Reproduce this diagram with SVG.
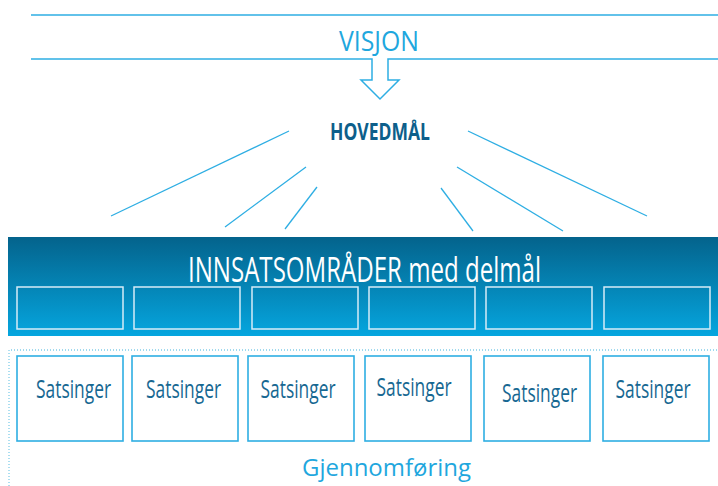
<svg xmlns="http://www.w3.org/2000/svg" width="718" height="486" viewBox="0 0 718 486">
  <defs>
    <linearGradient id="barFill" x1="0" y1="0" x2="0" y2="1">
      <stop offset="0" stop-color="#04638c"/>
      <stop offset="1" stop-color="#05a6df"/>
    </linearGradient>
    <style>
      .line { stroke: #2eaee3; stroke-width: 1.5; fill: none; }
      .ray { stroke: #2eaee3; stroke-width: 1.3; fill: none; }
      .sub { fill: none; stroke: #d6ecf7; stroke-width: 1.5; }
      .box { fill: #ffffff; stroke: #2eaee3; stroke-width: 1.6; }
      .lbl { font-family: "Open Sans", "Noto Sans", "Liberation Sans", sans-serif; }
      .sats { font-size: 25px; fill: #176892; }
      .frame { fill: none; stroke: #7fcde9; stroke-width: 1.3; stroke-dasharray: 1 2; }
    </style>
  </defs>

  <!-- vision band with the downward block arrow -->
  <g id="visjon">
    <line class="line" x1="31" y1="15" x2="718" y2="15"/>
    <path class="line" d="M31,59 H372 V80 H361 L380,99 L399,80 H388 V59 H718"/>
    <text class="lbl" x="379" y="51" font-size="27" fill="#1fa7de" text-anchor="middle" textLength="80" lengthAdjust="spacingAndGlyphs">VISJON</text>
  </g>

  <!-- main goal -->
  <g id="hovedmal">
    <text class="lbl" x="380" y="140" font-size="24" font-weight="bold" fill="#0d5f8b" text-anchor="middle" textLength="100" lengthAdjust="spacingAndGlyphs">HOVEDMÅL</text>
  </g>

  <!-- rays from the main goal down to the focus areas -->
  <g id="connectors">
    <line class="ray" x1="289" y1="131" x2="111" y2="216"/>
    <line class="ray" x1="306" y1="167" x2="225" y2="227"/>
    <line class="ray" x1="317" y1="187" x2="285" y2="229"/>
    <line class="ray" x1="441" y1="188" x2="473" y2="231"/>
    <line class="ray" x1="457" y1="167" x2="563" y2="231"/>
    <line class="ray" x1="468" y1="131" x2="647" y2="216"/>
  </g>

  <!-- focus areas with sub-goals -->
  <g id="innsatsomrader">
    <rect x="8" y="237" width="710" height="99" fill="url(#barFill)"/>
    <text class="lbl" x="364.5" y="282" font-size="35" fill="#ffffff" text-anchor="middle" textLength="353" lengthAdjust="spacingAndGlyphs">INNSATSOMRÅDER med delmål</text>
    <rect class="sub" x="17" y="287" width="106" height="42"/>
    <rect class="sub" x="134" y="287" width="106" height="42"/>
    <rect class="sub" x="252" y="287" width="106" height="42"/>
    <rect class="sub" x="369" y="287" width="106" height="42"/>
    <rect class="sub" x="486" y="287" width="106" height="42"/>
    <rect class="sub" x="604" y="287" width="106" height="42"/>
  </g>

  <!-- implementation frame -->
  <g id="gjennomforing">
    <path class="frame" d="M9,486 V350 H718"/>
    <text class="lbl" x="386.5" y="476" font-size="23" fill="#1fa7de" text-anchor="middle" textLength="169" lengthAdjust="spacingAndGlyphs">Gjennomføring</text>
  </g>

  <g id="satsing-1">
    <rect class="box" x="17" y="356" width="106" height="85"/>
    <text class="lbl sats" x="73.5" y="398" text-anchor="middle" textLength="75" lengthAdjust="spacingAndGlyphs">Satsinger</text>
  </g>
  <g id="satsing-2">
    <rect class="box" x="132" y="356" width="106" height="85"/>
    <text class="lbl sats" x="183.5" y="398" text-anchor="middle" textLength="75" lengthAdjust="spacingAndGlyphs">Satsinger</text>
  </g>
  <g id="satsing-3">
    <rect class="box" x="248" y="356" width="106" height="85"/>
    <text class="lbl sats" x="298" y="398" text-anchor="middle" textLength="75" lengthAdjust="spacingAndGlyphs">Satsinger</text>
  </g>
  <g id="satsing-4">
    <rect class="box" x="365" y="356" width="106" height="85"/>
    <text class="lbl sats" x="414" y="396" text-anchor="middle" textLength="75" lengthAdjust="spacingAndGlyphs">Satsinger</text>
  </g>
  <g id="satsing-5">
    <rect class="box" x="484" y="356" width="106" height="85"/>
    <text class="lbl sats" x="539.5" y="402" text-anchor="middle" textLength="75" lengthAdjust="spacingAndGlyphs">Satsinger</text>
  </g>
  <g id="satsing-6">
    <rect class="box" x="603" y="356" width="106" height="85"/>
    <text class="lbl sats" x="653" y="398" text-anchor="middle" textLength="75" lengthAdjust="spacingAndGlyphs">Satsinger</text>
  </g>
</svg>
